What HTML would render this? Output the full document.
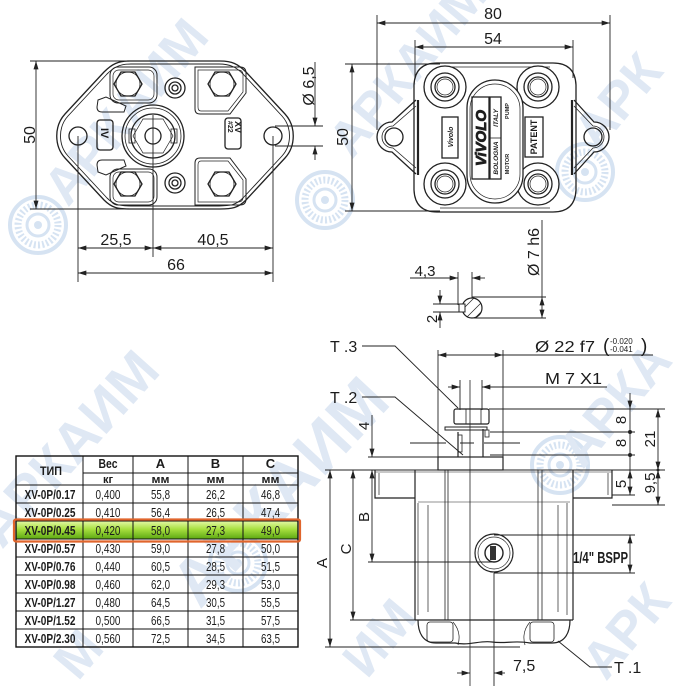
<!DOCTYPE html>
<html><head><meta charset="utf-8">
<style>
html,body{margin:0;padding:0;background:#fff;width:690px;height:690px;overflow:hidden;}
svg{display:block;overflow:hidden;}
text{font-family:"Liberation Sans",Arial,sans-serif;fill:#1c1c1c;}
.n{font-family:"Liberation Sans Narrow","Liberation Sans",sans-serif;}
.wm{font-family:"Liberation Sans",sans-serif;font-weight:bold;fill:#dfe8f4;}
</style></head><body>
<svg width="690" height="690" viewBox="0 0 690 690" xmlns="http://www.w3.org/2000/svg">
<defs>
<marker id="ar" viewBox="0 0 10 6" refX="10" refY="3" markerWidth="9" markerHeight="5" markerUnits="userSpaceOnUse" orient="auto-start-reverse"><path d="M0,0 L10,3 L0,6z" fill="#222"/></marker>
<linearGradient id="gr" x1="0" y1="0" x2="0" y2="1"><stop offset="0" stop-color="#e4f9a8"/><stop offset="0.45" stop-color="#a8e040"/><stop offset="1" stop-color="#5ca812"/></linearGradient>
<g id="logo" fill="none" stroke="#d6e3f2">
<circle r="28" stroke-width="4"/>
<circle r="20" stroke-width="7" stroke-dasharray="2 2.2"/>
<circle r="11" stroke-width="3"/>
<circle r="4" fill="#d6e3f2" stroke="none"/>
</g>
<clipPath id="cp1"><circle cx="472" cy="308" r="10"/></clipPath>
</defs>

<!-- watermarks -->
<g>
<use href="#logo" x="38" y="225"/>
<use href="#logo" x="325" y="200"/>
<use href="#logo" x="585" y="172"/>
<use href="#logo" x="560" y="465"/>
<use href="#logo" x="238" y="563"/>
<text class="wm" font-size="52" transform="translate(68,208) rotate(-50)">АРКАИМ</text>
<text class="wm" font-size="50" transform="translate(352,160) rotate(-50)">АРКАИМ</text>
<text class="wm" font-size="52" transform="translate(598,152) rotate(-50)">АРК</text>
<text class="wm" font-size="56" transform="translate(2,550) rotate(-48)">АРКАИМ</text>
<text class="wm" font-size="66" transform="translate(200,610) rotate(-47)">АРКАИМ</text>
<text class="wm" font-size="52" transform="translate(583,470) rotate(-50)">АРКА</text>
<text class="wm" font-size="52" transform="translate(367,680) rotate(-50)">ИМ</text>
<text class="wm" font-size="52" transform="translate(78,682) rotate(-50)">М</text>
<text class="wm" font-size="52" transform="translate(606,682) rotate(-50)">АРК</text>
</g>

<!-- ============ LEFT TOP VIEW ============ -->
<g fill="none" stroke="#222" stroke-width="1.3">
<path d="M130,61 L220,61 C232,61 238,64 246,72 L285,114 C296,126 296,146 285,158 L246,200 C238,208 232,209 220,209 L130,209 C118,209 112,208 104,200 L65,158 C54,146 54,126 65,114 L104,72 C112,64 118,61 130,61 Z"/>
<path stroke-width="0.9" d="M131,64 L219,64 C230,64 236,67 243,74 L282,116 C292,127 292,145 282,156 L243,198 C236,205 230,206 219,206 L131,206 C120,206 114,205 107,198 L68,156 C58,145 58,127 68,116 L107,74 C114,67 120,64 131,64 Z"/>
<circle cx="78" cy="136" r="9"/>
<circle cx="273" cy="136" r="9"/>
<rect x="110" y="67" width="47" height="36" rx="8" stroke-width="1"/>
<rect x="113" y="70" width="41" height="30" rx="6" stroke-width="0.7"/>
<path stroke-width="1" d="M98,100 L106,97 L126,106 L124,112 L102,112 Q97,112 97,107 Z"/>
<rect x="110" y="169" width="47" height="36" rx="8" stroke-width="1"/>
<rect x="113" y="172" width="41" height="30" rx="6" stroke-width="0.7"/>
<path stroke-width="1" d="M98,172 L106,175 L126,166 L124,160 L102,160 Q97,160 97,165 Z"/>
<path stroke-width="1" d="M195,67 L240,67 Q246,67 246,73 L246,93 L230,114 L200,114 Q195,114 195,109 Z"/>
<path stroke-width="0.7" d="M198,70 L238,70 Q243,70 243,75 L243,92 L228,111 L201,111 Q198,111 198,107 Z"/>
<path stroke-width="1" d="M195,205 L240,205 Q246,205 246,199 L246,179 L230,158 L200,158 Q195,158 195,163 Z"/>
<path stroke-width="0.7" d="M198,202 L238,202 Q243,202 243,197 L243,180 L228,161 L201,161 Q198,161 198,165 Z"/>
<g fill="#fff">
<polygon points="142,84 135,96 121,96 114,84 121,72 135,72"/>
<polygon points="236,84 229,96 215,96 208,84 215,72 229,72"/>
<polygon points="142,184 135,196 121,196 114,184 121,172 135,172"/>
<polygon points="236,184 229,196 215,196 208,184 215,172 229,172"/>
</g>
<circle cx="128" cy="84" r="12" stroke-width="0.8"/>
<circle cx="222" cy="84" r="12" stroke-width="0.8"/>
<circle cx="128" cy="184" r="12" stroke-width="0.8"/>
<circle cx="222" cy="184" r="12" stroke-width="0.8"/>
<circle cx="175" cy="88" r="10"/><circle cx="175" cy="88" r="6"/><circle cx="175" cy="88" r="3"/>
<circle cx="175" cy="183" r="10"/><circle cx="175" cy="183" r="6"/><circle cx="175" cy="183" r="3"/>
<circle cx="153" cy="136" r="31"/>
<circle cx="153" cy="136" r="28" stroke-width="0.8"/>
<circle cx="153" cy="136" r="22"/>
<polygon points="173,136 163,153 143,153 133,136 143,119 163,119" stroke-width="0.7"/>
<circle cx="153" cy="136" r="8"/>
<rect x="129" y="129" width="6" height="14" stroke-width="0.8"/>
<rect x="171" y="129" width="6" height="14" stroke-width="0.8"/>
<rect x="97" y="120" width="16" height="30" rx="3"/>
<rect x="225" y="118" width="16" height="31" rx="3"/>
</g>
<text font-size="11" font-weight="bold" transform="translate(101,128) rotate(90)">IV</text>
<text font-size="7" font-weight="bold" transform="translate(228,121) rotate(90)">#22</text>
<text font-size="9" font-weight="bold" transform="translate(235,121) rotate(90)">XV</text>

<g fill="none" stroke="#222" stroke-width="0.9">
<line x1="30" y1="61" x2="130" y2="61"/>
<line x1="30" y1="209" x2="130" y2="209"/>
<line x1="36" y1="61" x2="36" y2="209" marker-start="url(#ar)" marker-end="url(#ar)"/>
<line x1="78" y1="136" x2="78" y2="282"/>
<line x1="153" y1="115" x2="153" y2="257"/>
<line x1="273" y1="136" x2="273" y2="282"/>
<line x1="78" y1="248" x2="153" y2="248" marker-start="url(#ar)" marker-end="url(#ar)"/>
<line x1="153" y1="248" x2="273" y2="248" marker-start="url(#ar)" marker-end="url(#ar)"/>
<line x1="78" y1="273" x2="273" y2="273" marker-start="url(#ar)" marker-end="url(#ar)"/>
<line x1="275" y1="126" x2="323" y2="126"/>
<line x1="275" y1="146" x2="323" y2="146"/>
<line x1="315" y1="62" x2="315" y2="126" marker-end="url(#ar)"/>
<line x1="315" y1="160" x2="315" y2="146" marker-end="url(#ar)"/>
</g>
<text font-size="16" text-anchor="middle" transform="translate(35,135) rotate(-90)">50</text>
<text font-size="16" text-anchor="middle" x="116" y="245">25,5</text>
<text font-size="16" text-anchor="middle" x="213" y="245">40,5</text>
<text font-size="16" text-anchor="middle" x="176" y="270">66</text>
<text font-size="16" text-anchor="middle" transform="translate(314,86) rotate(-90)">Ø 6,5</text>

<!-- ============ RIGHT TOP VIEW ============ -->
<g fill="none" stroke="#222" stroke-width="1.3">
<path d="M416,100 L392,122 A15,15 0 0 0 392,152 L416,174"/>
<path stroke-width="0.8" d="M416,106 L393,126 A11,11 0 0 0 393,148 L416,168"/>
<path d="M574,100 L594,122 A15,15 0 0 1 594,152 L574,174"/>
<path stroke-width="0.8" d="M574,106 L593,126 A11,11 0 0 1 593,148 L574,168"/>
<circle cx="394" cy="137" r="9"/>
<circle cx="593" cy="137" r="9"/>
<path d="M437,63 L553,63 Q575,63 576,85 L576,190 Q575,212 553,212 L437,212 Q415,212 414,190 L414,85 Q415,63 437,63 Z"/>
<line x1="418" y1="100" x2="418" y2="175" stroke-width="2.2"/>
<line x1="572" y1="100" x2="572" y2="175" stroke-width="2.2"/>
<path stroke-width="0.8" d="M440,67 L550,67"/>
<path stroke-width="0.8" d="M440,208 L550,208"/>
<g fill="#fff">
<circle cx="445" cy="87" r="21"/><circle cx="538" cy="87" r="21"/>
<circle cx="445" cy="184" r="21"/><circle cx="538" cy="184" r="21"/>
</g>
<circle cx="445" cy="87" r="14"/><circle cx="445" cy="87" r="10"/><circle cx="445" cy="87" r="8" stroke-width="0.7"/>
<circle cx="538" cy="87" r="14"/><circle cx="538" cy="87" r="10"/><circle cx="538" cy="87" r="8" stroke-width="0.7"/>
<circle cx="445" cy="184" r="14"/><circle cx="445" cy="184" r="10"/><circle cx="445" cy="184" r="8" stroke-width="0.7"/>
<circle cx="538" cy="184" r="14"/><circle cx="538" cy="184" r="10"/><circle cx="538" cy="184" r="8" stroke-width="0.7"/>
<rect x="467" y="80" width="56" height="123" rx="28" fill="#fff"/>
<rect x="470" y="84" width="50" height="115" rx="25" stroke-width="0.7"/>
<rect x="472" y="97" width="17" height="82"/>
<rect x="490" y="97" width="11" height="82"/>
<line x1="490" y1="138" x2="501" y2="138" stroke-width="0.8"/>
<rect x="442" y="117" width="16" height="41"/>
<rect x="525" y="117" width="18" height="40"/>
</g>
<text font-size="15" font-weight="bold" font-style="italic" text-anchor="middle" fill="#fff" stroke="#222" stroke-width="0.8" transform="translate(486,138) rotate(-90)">ViVOLO</text>
<text font-size="6.5" font-weight="bold" font-style="italic" text-anchor="middle" transform="translate(498,118) rotate(-90)">ITALY</text>
<text font-size="6.5" font-weight="bold" font-style="italic" text-anchor="middle" transform="translate(498,158) rotate(-90)">BOLOGNA</text>
<text font-size="5.5" font-weight="bold" text-anchor="middle" transform="translate(509,111) rotate(-90)">PUMP</text>
<text font-size="5.5" font-weight="bold" text-anchor="middle" transform="translate(509,164) rotate(-90)">MOTOR</text>
<text font-size="7" font-weight="bold" font-style="italic" text-anchor="middle" transform="translate(453,137) rotate(-90)">Vivolo</text>
<text font-size="9" font-weight="bold" text-anchor="middle" transform="translate(537,137) rotate(-90)">PATENT</text>

<g fill="none" stroke="#222" stroke-width="0.9">
<line x1="377" y1="15" x2="377" y2="130"/>
<line x1="610" y1="15" x2="610" y2="130"/>
<line x1="377" y1="23" x2="610" y2="23" marker-start="url(#ar)" marker-end="url(#ar)"/>
<line x1="415" y1="40" x2="415" y2="78"/>
<line x1="573" y1="40" x2="573" y2="78"/>
<line x1="415" y1="47" x2="573" y2="47" marker-start="url(#ar)" marker-end="url(#ar)"/>
<line x1="345" y1="64" x2="440" y2="64"/>
<line x1="345" y1="211" x2="440" y2="211"/>
<line x1="352" y1="64" x2="352" y2="211" marker-start="url(#ar)" marker-end="url(#ar)"/>
</g>
<text font-size="16" text-anchor="middle" x="493" y="19">80</text>
<text font-size="16" text-anchor="middle" x="493" y="44">54</text>
<text font-size="16" text-anchor="middle" transform="translate(348,137) rotate(-90)">50</text>

<!-- shaft section -->
<g fill="none" stroke="#222" stroke-width="0.9">
<circle cx="472" cy="308" r="10" stroke-width="1.2"/>
<g clip-path="url(#cp1)" stroke-width="0.7">
<line x1="460" y1="312" x2="476" y2="296"/><line x1="465" y1="319" x2="483" y2="301"/><line x1="471" y1="322" x2="486" y2="307"/>
</g>
<rect x="459" y="304" width="6" height="8" fill="#fff" stroke-width="1"/>
<line x1="542" y1="220" x2="542" y2="297"/>
<line x1="542" y1="297" x2="542" y2="318" marker-start="url(#ar)" marker-end="url(#ar)"/>
<line x1="472" y1="297" x2="546" y2="297"/>
<line x1="472" y1="318" x2="546" y2="318"/>
<line x1="410" y1="278" x2="458" y2="278" marker-end="url(#ar)"/>
<line x1="485" y1="278" x2="472" y2="278" marker-end="url(#ar)"/>
<line x1="458" y1="272" x2="458" y2="305"/>
<line x1="472" y1="272" x2="472" y2="298"/>
<line x1="440" y1="290" x2="440" y2="304" marker-end="url(#ar)"/>
<line x1="440" y1="328" x2="440" y2="312" marker-end="url(#ar)"/>
<line x1="433" y1="304" x2="462" y2="304"/>
<line x1="433" y1="312" x2="462" y2="312"/>
</g>
<text font-size="16" text-anchor="middle" transform="translate(539,252) rotate(-90)">Ø 7 h6</text>
<text font-size="15" text-anchor="middle" x="425" y="276">4,3</text>
<text font-size="15" text-anchor="middle" transform="translate(437,319) rotate(-90)">2</text>

<!-- ============ SIDE VIEW ============ -->
<g fill="none" stroke="#222" stroke-width="1.2">
<line x1="325" y1="470" x2="612" y2="470" stroke-width="1"/>
<line x1="375" y1="472" x2="612" y2="472" stroke-width="0.6"/>
<path d="M375,470 L375,498 L415,498"/>
<path d="M612,470 L612,498 L573,498"/>
<line x1="379" y1="473" x2="379" y2="495" stroke-width="0.7"/>
<line x1="608" y1="473" x2="608" y2="495" stroke-width="0.7"/>
<line x1="415" y1="470" x2="415" y2="620"/>
<line x1="573" y1="470" x2="573" y2="620"/>
<line x1="418" y1="503" x2="418" y2="615" stroke-width="0.7"/>
<line x1="428" y1="505" x2="428" y2="612" stroke-width="0.7"/>
<line x1="445" y1="470" x2="445" y2="620" stroke-width="0.8"/>
<line x1="448" y1="470" x2="448" y2="620" stroke-width="0.8"/>
<line x1="538" y1="470" x2="538" y2="620" stroke-width="0.8"/>
<line x1="542" y1="470" x2="542" y2="620" stroke-width="0.8"/>
<line x1="558" y1="505" x2="558" y2="612" stroke-width="0.7"/>
<line x1="567" y1="503" x2="567" y2="615" stroke-width="0.7"/>
<line x1="418" y1="502" x2="570" y2="502" stroke-width="0.6"/>
<line x1="415" y1="620" x2="573" y2="620"/>
<path d="M418,620 C418,634 424,643 436,643 L455,643 C470,646 480,640 492,642 C505,644 515,640 530,643 L552,643 C564,643 570,634 570,620"/>
<rect x="427" y="622" width="26" height="20" rx="3" stroke-width="0.8"/>
<rect x="530" y="622" width="24" height="20" rx="3" stroke-width="0.8"/>
<path d="M453,622 C460,630 460,638 458,645" stroke-width="0.7"/>
<path d="M530,622 C523,630 523,638 525,645" stroke-width="0.7"/>
<rect x="438" y="457" width="65" height="13"/>
<line x1="458" y1="432" x2="458" y2="457"/>
<line x1="483" y1="429" x2="483" y2="457"/>
<rect x="445" y="427" width="42" height="3" stroke-width="1"/>
<rect x="485" y="430" width="4" height="7" stroke-width="0.8"/>
<rect x="454" y="409" width="35" height="15" rx="2"/>
<line x1="466" y1="409" x2="466" y2="424" stroke-width="0.8"/>
<line x1="481" y1="409" x2="481" y2="424" stroke-width="0.8"/>
<rect x="458" y="435" width="4" height="17" stroke-width="0.8"/>
<line x1="410" y1="443" x2="528" y2="443" stroke-width="1.1" stroke-dasharray="36,14,14,10"/>
<circle cx="494" cy="553" r="19" fill="#fff"/>
<circle cx="494" cy="553" r="16" stroke-width="0.7"/>
<circle cx="494" cy="553" r="9" stroke-width="1.4"/>
<rect x="490" y="546" width="6" height="14" fill="#333" stroke="none"/>
</g>

<g fill="none" stroke="#222" stroke-width="0.9">
<line x1="470" y1="380" x2="470" y2="686" stroke-width="0.8"/>
<line x1="438" y1="350" x2="438" y2="457"/>
<line x1="503" y1="350" x2="503" y2="457"/>
<line x1="438" y1="355" x2="503" y2="355" marker-start="url(#ar)" marker-end="url(#ar)"/>
<line x1="503" y1="355" x2="653" y2="355"/>
<line x1="460" y1="380" x2="460" y2="410"/>
<line x1="482" y1="380" x2="482" y2="410"/>
<line x1="448" y1="387" x2="460" y2="387" marker-end="url(#ar)"/>
<line x1="607" y1="387" x2="482" y2="387" marker-end="url(#ar)"/>
<polyline points="362,346 395,346 458,408"/>
<polyline points="362,397 395,397 463,455"/>
<polyline points="612,667 590,667 558,641"/>
<line x1="368" y1="457" x2="438" y2="457"/>
<line x1="368" y1="562" x2="494" y2="562"/>
<line x1="350" y1="620" x2="415" y2="620"/>
<line x1="325" y1="647" x2="520" y2="647"/>
<line x1="372" y1="415" x2="372" y2="457" marker-end="url(#ar)"/>
<line x1="372" y1="470" x2="372" y2="562" marker-start="url(#ar)" marker-end="url(#ar)"/>
<line x1="353" y1="470" x2="353" y2="620" marker-start="url(#ar)" marker-end="url(#ar)"/>
<line x1="330" y1="470" x2="330" y2="647" marker-start="url(#ar)" marker-end="url(#ar)"/>
<line x1="489" y1="409" x2="665" y2="409"/>
<line x1="490" y1="432" x2="635" y2="432"/>
<line x1="490" y1="455" x2="635" y2="455"/>
<line x1="612" y1="470" x2="665" y2="470"/>
<line x1="612" y1="495" x2="635" y2="495"/>
<line x1="612" y1="505" x2="665" y2="505"/>
<line x1="630" y1="393" x2="630" y2="409" marker-end="url(#ar)"/>
<line x1="630" y1="409" x2="630" y2="495"/>
<line x1="630" y1="470" x2="630" y2="495" marker-start="url(#ar)" marker-end="url(#ar)"/>
<line x1="658" y1="409" x2="658" y2="470" marker-start="url(#ar)" marker-end="url(#ar)"/>
<line x1="658" y1="470" x2="658" y2="505" marker-start="url(#ar)" marker-end="url(#ar)"/>
<line x1="494" y1="535" x2="635" y2="535"/>
<line x1="494" y1="573" x2="635" y2="573"/>
<line x1="630" y1="535" x2="630" y2="573" marker-start="url(#ar)" marker-end="url(#ar)"/>
<line x1="494" y1="573" x2="494" y2="686"/>
<line x1="457" y1="673" x2="470" y2="673" marker-end="url(#ar)"/>
<line x1="505" y1="673" x2="494" y2="673" marker-end="url(#ar)"/>
</g>
<circle cx="630" cy="432" r="2" fill="#222"/>
<circle cx="630" cy="455" r="2" fill="#222"/>
<circle cx="658" cy="470" r="1.5" fill="#222"/>

<text font-size="16" x="330" y="352">T .3</text>
<text font-size="16" x="330" y="403">T .2</text>
<text font-size="16" x="614" y="673">T .1</text>
<text font-size="16" x="535" y="352" textLength="60" lengthAdjust="spacingAndGlyphs">Ø 22 f7</text>
<text font-size="19" x="603" y="352">(</text>
<text font-size="8" x="610" y="344">-0.020</text>
<text font-size="8" x="610" y="352">-0.041</text>
<text font-size="19" x="641" y="352">)</text>
<text font-size="16" x="545" y="384" textLength="57" lengthAdjust="spacingAndGlyphs">M 7 X1</text>
<text font-size="15" text-anchor="middle" transform="translate(369,426) rotate(-90)">4</text>
<text font-size="15" text-anchor="middle" transform="translate(369,517) rotate(-90)">B</text>
<text font-size="15" text-anchor="middle" transform="translate(351,549) rotate(-90)">C</text>
<text font-size="15" text-anchor="middle" transform="translate(327,563) rotate(-90)">A</text>
<text font-size="15" text-anchor="middle" transform="translate(626,420) rotate(-90)">8</text>
<text font-size="15" text-anchor="middle" transform="translate(626,443) rotate(-90)">8</text>
<text font-size="15" text-anchor="middle" transform="translate(626,484) rotate(-90)">5</text>
<text font-size="15" text-anchor="middle" transform="translate(655,439) rotate(-90)">21</text>
<text font-size="15" text-anchor="middle" transform="translate(655,483) rotate(-90)">9,5</text>
<text class="n" font-size="16" font-weight="bold" x="573" y="563" textLength="55" lengthAdjust="spacingAndGlyphs">1/4" BSPP</text>
<text font-size="16" x="513" y="671">7,5</text>

<!-- ============ TABLE ============ -->
<rect x="16" y="521" width="282" height="18" fill="url(#gr)"/>
<g fill="none" stroke="#111" stroke-width="1">
<rect x="16" y="456" width="282" height="191" stroke-width="1.4"/>
<line x1="83" y1="456" x2="83" y2="647"/>
<line x1="133" y1="456" x2="133" y2="647"/>
<line x1="188" y1="456" x2="188" y2="647"/>
<line x1="243" y1="456" x2="243" y2="647"/>
<line x1="83" y1="473" x2="298" y2="473"/>
<line x1="16" y1="485" x2="298" y2="485"/>
<line x1="16" y1="503" x2="298" y2="503"/>
<line x1="16" y1="521" x2="298" y2="521"/>
<line x1="16" y1="539" x2="298" y2="539"/>
<line x1="16" y1="557" x2="298" y2="557"/>
<line x1="16" y1="575" x2="298" y2="575"/>
<line x1="16" y1="593" x2="298" y2="593"/>
<line x1="16" y1="611" x2="298" y2="611"/>
<line x1="16" y1="629" x2="298" y2="629"/>
</g>
<rect x="14" y="519.5" width="286" height="22" rx="2" fill="none" stroke="#e0652c" stroke-width="2.2"/>

<g class="n" font-size="13" text-anchor="middle">
<text x="51" y="475" font-weight="bold" font-size="12" textLength="22" lengthAdjust="spacingAndGlyphs">ТИП</text>
<text x="108" y="468" font-weight="bold" textLength="19" lengthAdjust="spacingAndGlyphs">Вес</text>
<text x="160.5" y="468" font-weight="bold">A</text>
<text x="215.5" y="468" font-weight="bold">B</text>
<text x="270.5" y="468" font-weight="bold">C</text>
<text x="108" y="483" font-weight="bold" font-size="11">кг</text>
<text x="160.5" y="483" font-weight="bold" font-size="11" textLength="18" lengthAdjust="spacingAndGlyphs">мм</text>
<text x="215.5" y="483" font-weight="bold" font-size="11" textLength="18" lengthAdjust="spacingAndGlyphs">мм</text>
<text x="270.5" y="483" font-weight="bold" font-size="11" textLength="18" lengthAdjust="spacingAndGlyphs">мм</text>
</g>
<g class="n" font-size="13" text-anchor="middle">
<g font-weight="bold">
<text x="50" y="499" textLength="51" lengthAdjust="spacingAndGlyphs">XV-0P/0.17</text>
<text x="50" y="517" textLength="51" lengthAdjust="spacingAndGlyphs">XV-0P/0.25</text>
<text x="50" y="535" textLength="51" lengthAdjust="spacingAndGlyphs">XV-0P/0.45</text>
<text x="50" y="553" textLength="51" lengthAdjust="spacingAndGlyphs">XV-0P/0.57</text>
<text x="50" y="571" textLength="51" lengthAdjust="spacingAndGlyphs">XV-0P/0.76</text>
<text x="50" y="589" textLength="51" lengthAdjust="spacingAndGlyphs">XV-0P/0.98</text>
<text x="50" y="607" textLength="51" lengthAdjust="spacingAndGlyphs">XV-0P/1.27</text>
<text x="50" y="625" textLength="51" lengthAdjust="spacingAndGlyphs">XV-0P/1.52</text>
<text x="50" y="643" textLength="51" lengthAdjust="spacingAndGlyphs">XV-0P/2.30</text>
</g>
<text x="108" y="499" textLength="25" lengthAdjust="spacingAndGlyphs">0,400</text>
<text x="108" y="517" textLength="25" lengthAdjust="spacingAndGlyphs">0,410</text>
<text x="108" y="535" textLength="25" lengthAdjust="spacingAndGlyphs">0,420</text>
<text x="108" y="553" textLength="25" lengthAdjust="spacingAndGlyphs">0,430</text>
<text x="108" y="571" textLength="25" lengthAdjust="spacingAndGlyphs">0,440</text>
<text x="108" y="589" textLength="25" lengthAdjust="spacingAndGlyphs">0,460</text>
<text x="108" y="607" textLength="25" lengthAdjust="spacingAndGlyphs">0,480</text>
<text x="108" y="625" textLength="25" lengthAdjust="spacingAndGlyphs">0,500</text>
<text x="108" y="643" textLength="25" lengthAdjust="spacingAndGlyphs">0,560</text>

<text x="160.5" y="499" textLength="19" lengthAdjust="spacingAndGlyphs">55,8</text>
<text x="160.5" y="517" textLength="19" lengthAdjust="spacingAndGlyphs">56,4</text>
<text x="160.5" y="535" textLength="19" lengthAdjust="spacingAndGlyphs">58,0</text>
<text x="160.5" y="553" textLength="19" lengthAdjust="spacingAndGlyphs">59,0</text>
<text x="160.5" y="571" textLength="19" lengthAdjust="spacingAndGlyphs">60,5</text>
<text x="160.5" y="589" textLength="19" lengthAdjust="spacingAndGlyphs">62,0</text>
<text x="160.5" y="607" textLength="19" lengthAdjust="spacingAndGlyphs">64,5</text>
<text x="160.5" y="625" textLength="19" lengthAdjust="spacingAndGlyphs">66,5</text>
<text x="160.5" y="643" textLength="19" lengthAdjust="spacingAndGlyphs">72,5</text>

<text x="215.5" y="499" textLength="19" lengthAdjust="spacingAndGlyphs">26,2</text>
<text x="215.5" y="517" textLength="19" lengthAdjust="spacingAndGlyphs">26,5</text>
<text x="215.5" y="535" textLength="19" lengthAdjust="spacingAndGlyphs">27,3</text>
<text x="215.5" y="553" textLength="19" lengthAdjust="spacingAndGlyphs">27,8</text>
<text x="215.5" y="571" textLength="19" lengthAdjust="spacingAndGlyphs">28,5</text>
<text x="215.5" y="589" textLength="19" lengthAdjust="spacingAndGlyphs">29,3</text>
<text x="215.5" y="607" textLength="19" lengthAdjust="spacingAndGlyphs">30,5</text>
<text x="215.5" y="625" textLength="19" lengthAdjust="spacingAndGlyphs">31,5</text>
<text x="215.5" y="643" textLength="19" lengthAdjust="spacingAndGlyphs">34,5</text>

<text x="270.5" y="499" textLength="19" lengthAdjust="spacingAndGlyphs">46,8</text>
<text x="270.5" y="517" textLength="19" lengthAdjust="spacingAndGlyphs">47,4</text>
<text x="270.5" y="535" textLength="19" lengthAdjust="spacingAndGlyphs">49,0</text>
<text x="270.5" y="553" textLength="19" lengthAdjust="spacingAndGlyphs">50,0</text>
<text x="270.5" y="571" textLength="19" lengthAdjust="spacingAndGlyphs">51,5</text>
<text x="270.5" y="589" textLength="19" lengthAdjust="spacingAndGlyphs">53,0</text>
<text x="270.5" y="607" textLength="19" lengthAdjust="spacingAndGlyphs">55,5</text>
<text x="270.5" y="625" textLength="19" lengthAdjust="spacingAndGlyphs">57,5</text>
<text x="270.5" y="643" textLength="19" lengthAdjust="spacingAndGlyphs">63,5</text>
</g>
</svg>
</body></html>
